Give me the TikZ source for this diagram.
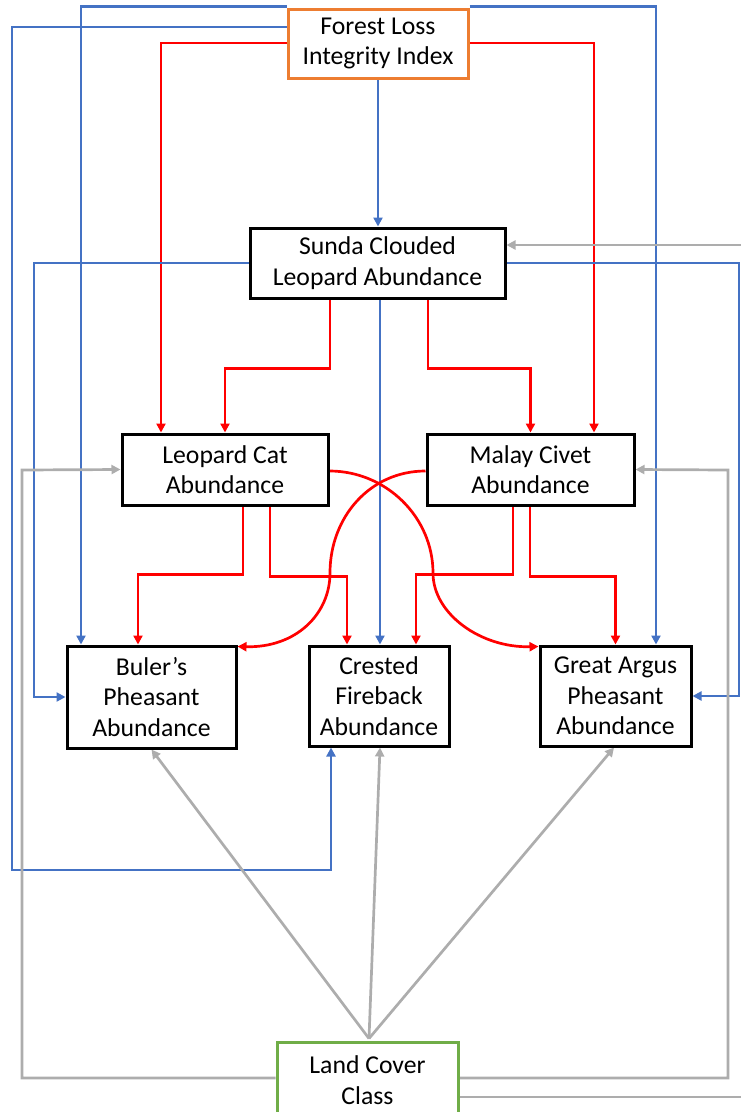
\documentclass[tikz,border=0pt]{standalone}
\usepackage{fontspec}
\setmainfont{Carlito}
\usetikzlibrary{arrows.meta,backgrounds}
\definecolor{cblue}{HTML}{4472C4}
\definecolor{cred}{HTML}{FF0000}
\definecolor{cgrey}{HTML}{ADADAD}
\definecolor{corange}{HTML}{ED7D31}
\definecolor{cgreen}{HTML}{70AD47}
\tikzset{
  box/.style={draw=black,line width=3pt,fill=white,align=center,inner sep=0pt,
    font=\fontsize{25.7}{30.5}\selectfont},
  conn/.style={line width=2.7pt,-{Triangle[length=9pt,width=9pt]}},
  bl/.style={conn,draw=cblue},
  rd/.style={conn,draw=cred},
  gy/.style={conn,draw=cgrey},
}
\begin{document}
\begin{tikzpicture}[x=1pt,y=-1pt]
\useasboundingbox (0,0) rectangle (741,1112);
\node[box,draw=corange,minimum width=180pt,minimum height=69pt] (fl) at (378,43.5) {Forest Loss\\Integrity Index};
\node[box,minimum width=255pt,minimum height=70pt] (sc) at (377.5,263) {Sunda Clouded\\Leopard Abundance};
\node[box,minimum width=206pt,minimum height=71pt] (lc) at (225,469.5) {Leopard Cat\\Abundance};
\node[box,minimum width=207pt,minimum height=71pt] (mc) at (530.5,469.5) {Malay Civet\\Abundance};
\node[box,minimum width=169pt,minimum height=102pt] (bp) at (151.5,697) {Buler’s\\Pheasant\\Abundance};
\node[box,minimum width=140pt,minimum height=100pt] (cf) at (379,696) {Crested\\Fireback\\Abundance};
\node[box,minimum width=151pt,minimum height=100pt] (ga) at (615.5,696) {Great Argus\\Pheasant\\Abundance};
\node[box,draw=cgreen,minimum width=181pt,minimum height=76pt] (lcc) at (367.5,1080) {Land Cover\\Class};
\coordinate (curveA) at (433,573);
\coordinate (curveB) at (330,573);
\begin{pgfonlayer}{background}
% Forest loss
\draw[bl] ([yshift=16.5pt]fl.west) -| (12,870) -| ([xshift=-48pt]cf.south);
\draw[bl] ([yshift=1pt]fl.north west) -| ([xshift=-70.5pt]bp.north);
\draw[bl] ([yshift=1pt]fl.north east) -| ([xshift=40.5pt]ga.north);
\draw[bl] (fl.south) -- (fl.south |- sc.north);
\draw[rd] ([yshift=0.5pt]fl.west) -| ([xshift=-64pt]lc.north);
\draw[rd] ([yshift=0.5pt]fl.east) -| ([xshift=63.5pt]mc.north);
% Sunda clouded leopard
\draw[gy] ([yshift=-17pt]lcc.east) -- (746,1097) -- (746,245) -- ([yshift=18pt]sc.east);
\draw[bl] (sc.west) -| (34,697) -- (bp.west);
\draw[bl] (sc.east) -| (739,696) -- (ga.east);
\draw[bl] ([xshift=2.5pt]sc.south) -- ([xshift=2.5pt]sc.south |- cf.north);
\draw[rd] ([xshift=-47.5pt]sc.south) -- ++(0,69) -| (lc.north);
\draw[rd] ([xshift=50.5pt]sc.south) -- ++(0,69) -| (mc.north);
% Leopard cat
\draw[rd] ([xshift=18pt]lc.south) -- ++(0,68) -| ([xshift=-13.5pt]bp.north);
\draw[rd] ([xshift=45pt]lc.south) -- ++(0,70) -| ([xshift=-32pt]cf.north);
\draw[rd] ([yshift=-1.5pt]lc.east) .. controls (386,471) and (433,517) .. (curveA)
  .. controls (433,614) and (481,648) .. ([yshift=-2pt]ga.north west);
% Malay civet
\draw[rd] ([yshift=-1.5pt]mc.west) .. controls (370,471) and (330,517) .. (curveB)
  .. controls (330,614) and (296,648) .. ([yshift=-2pt]bp.north east);
\draw[rd] ([xshift=-17.5pt]mc.south) -- ++(0,68) -| ([xshift=37pt]cf.north);
\draw[rd] ([xshift=-0.5pt]mc.south) -- ++(0,70) -| (ga.north);
% Land cover
\draw[gy] ([yshift=2pt]lcc.east) -| (728,470) -- (mc.east);
\draw[gy] ([yshift=2pt]lcc.west) -| (22,470) -- (lc.west);
\draw[gy] ([xshift=1.5pt,yshift=2pt]lcc.north) -- (bp.south);
\draw[gy] ([xshift=1.5pt,yshift=2pt]lcc.north) -- ([xshift=1pt]cf.south);
\draw[gy] ([xshift=1.5pt,yshift=2pt]lcc.north) -- ([xshift=-1.5pt]ga.south);
\end{pgfonlayer}
\end{tikzpicture}
\end{document}
